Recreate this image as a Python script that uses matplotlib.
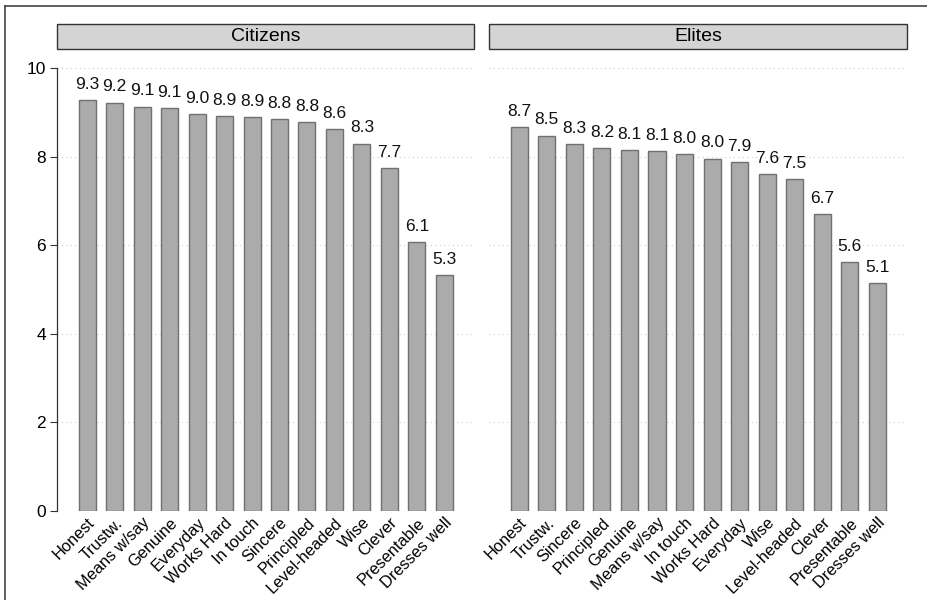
import matplotlib
matplotlib.use("Agg")
import matplotlib.pyplot as plt
from matplotlib.lines import Line2D
from matplotlib.patches import Rectangle

plt.rcParams['font.family'] = ['Liberation Sans', 'DejaVu Sans']

citizens_labels = ["Honest", "Trustw.", "Means w/say", "Genuine", "Everyday", "Works Hard",
                   "In touch", "Sincere", "Principled", "Level-headed", "Wise", "Clever",
                   "Presentable", "Dresses well"]
citizens_values = [9.27, 9.22, 9.13, 9.09, 8.96, 8.92, 8.89, 8.85, 8.77, 8.62, 8.29, 7.74, 6.07, 5.33]
citizens_text = ["9.3", "9.2", "9.1", "9.1", "9.0", "8.9", "8.9", "8.8", "8.8", "8.6", "8.3", "7.7", "6.1", "5.3"]

elites_labels = ["Honest", "Trustw.", "Sincere", "Principled", "Genuine", "Means w/say",
                 "In touch", "Works Hard", "Everyday", "Wise", "Level-headed", "Clever",
                 "Presentable", "Dresses well"]
elites_values = [8.67, 8.47, 8.28, 8.19, 8.15, 8.13, 8.06, 7.95, 7.88, 7.61, 7.49, 6.70, 5.62, 5.15]
elites_text = ["8.7", "8.5", "8.3", "8.2", "8.1", "8.1", "8.0", "8.0", "7.9", "7.6", "7.5", "6.7", "5.6", "5.1"]

panels = ["Citizens", "Elites"]
yticks = [0, 2, 4, 6, 8, 10]

W, H = 927, 600
fig = plt.figure(figsize=(W / 100, H / 100), dpi=100)

def box(x0, x1, y_top, y_bot):
    return [x0 / W, 1 - y_bot / H, (x1 - x0) / W, (y_bot - y_top) / H]

ax1 = fig.add_axes(box(57, 474, 68, 511))
ax2 = fig.add_axes(box(489, 907, 68, 511))

data = [(ax1, citizens_labels, citizens_values, citizens_text, panels[0]),
        (ax2, elites_labels, elites_values, elites_text, panels[1])]

for i, (ax, labels, vals, texts, title) in enumerate(data):
    x = list(range(len(labels)))
    ax.set_ylim(0, 10)
    ax.set_xlim(-1.1, 14.08)
    for yv in yticks:
        ax.axhline(yv, color="#cccccc", lw=0.8, ls=(0, (1, 3)), zorder=0)
    ax.bar(x, vals, width=0.62, color="#ababab", edgecolor="#707070", linewidth=1.0, zorder=2)
    for xi, v, t in zip(x, vals, texts):
        ax.annotate(t, (xi, v), xytext=(0, 6), textcoords="offset points",
                    ha="center", va="bottom", fontsize=12.5, color="#111111")
    ax.set_xticks(x)
    ax.set_xticklabels(labels, rotation=45, ha="right", rotation_mode="anchor", fontsize=11.8)
    ax.tick_params(axis="x", length=0, pad=3)
    for s in ["top", "right", "bottom"]:
        ax.spines[s].set_visible(False)
    if i == 0:
        ax.set_yticks(yticks)
        ax.set_yticklabels([str(v) for v in yticks], fontsize=12.5)
        ax.spines["left"].set_color("#333333")
        ax.spines["left"].set_linewidth(0.9)
        ax.tick_params(axis="y", length=5, width=0.8, color="#333333", pad=3)
    else:
        ax.spines["left"].set_visible(False)
        ax.set_yticks([])
    # strip title
    pos = ax.get_position()
    strip = Rectangle((pos.x0, 1 - 49 / H), pos.width, 25 / H, transform=fig.transFigure,
                      facecolor="#d4d4d4", edgecolor="#333333", linewidth=1.0)
    fig.patches.append(strip)
    fig.text(pos.x0 + pos.width / 2, 1 - 36.5 / H, title, ha="center", va="center", fontsize=14)

# outer frame (left and top)
fig.lines.append(Line2D([5 / W, 5 / W], [0, 1 - 6 / H], transform=fig.transFigure, color="#444444", lw=1.2))
fig.lines.append(Line2D([5 / W, 1], [1 - 6 / H, 1 - 6 / H], transform=fig.transFigure, color="#444444", lw=1.2))

fig.savefig("out.png", dpi=100)
